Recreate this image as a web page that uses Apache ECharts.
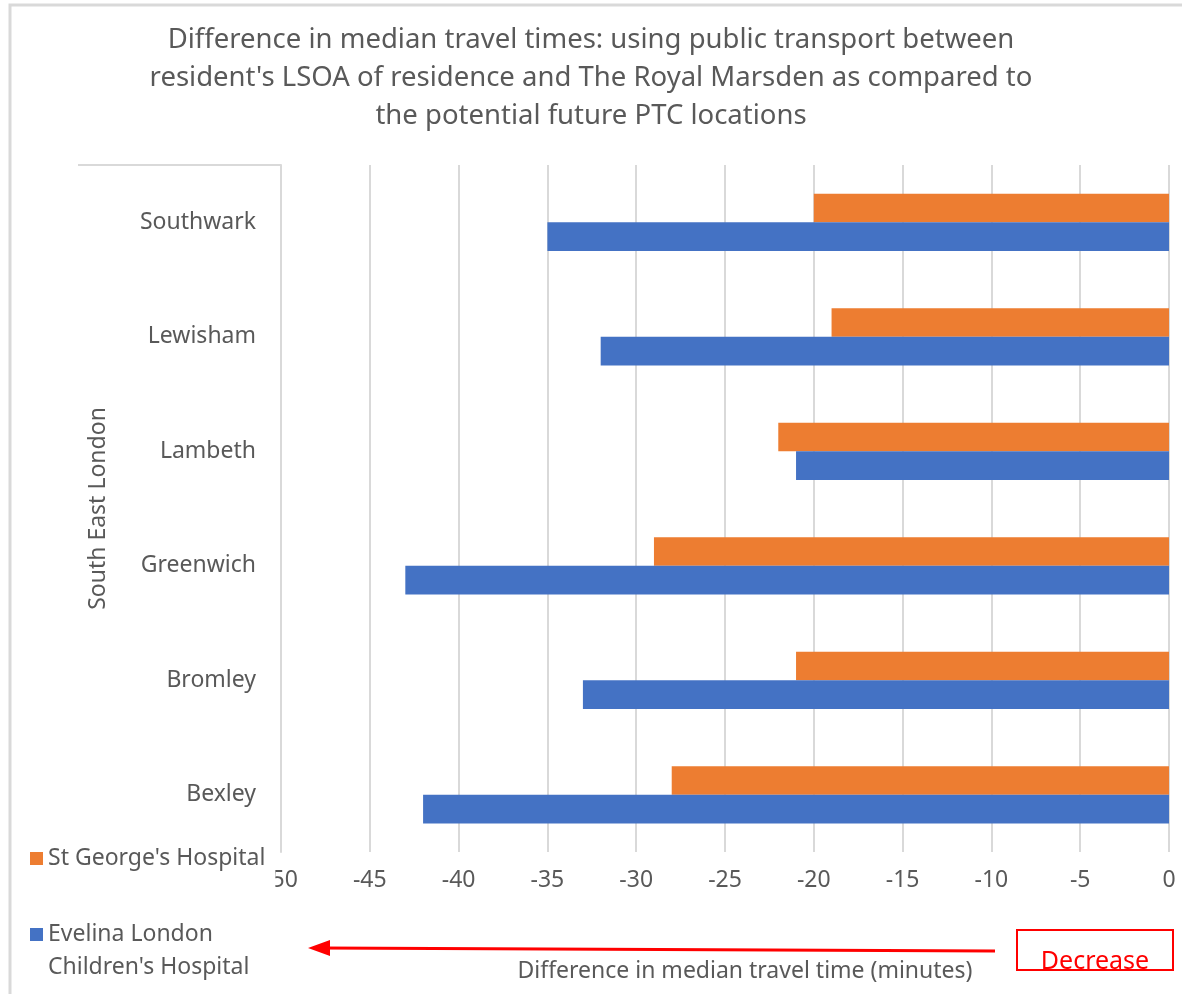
<!DOCTYPE html>
<html>
<head>
<meta charset="utf-8">
<script src="https://cdn.jsdelivr.net/npm/echarts@6/dist/echarts.min.js"></script>
<style>
html,body{margin:0;padding:0;background:#fff;}
#chart{width:1182px;height:994px;}
</style>
</head>
<body>
<div id="chart"></div>
<script>
// ---- data ----
const categories = ['Bexley', 'Bromley', 'Greenwich', 'Lambeth', 'Lewisham', 'Southwark'];
const stGeorges = [-28, -21, -29, -22, -19, -20];
const evelina = [-42, -33, -43, -21, -32, -35];
const seriesNames = ["St George's Hospital", "Evelina London Children's Hospital"];
const xTicks = { min: -50, max: 0, step: 5 };
const titleText = "Difference in median travel times: using public transport between\nresident's LSOA of residence and The Royal Marsden as compared to\nthe potential future PTC locations";
const xAxisTitle = 'Difference in median travel time (minutes)';
const groupLabel = 'South East London';
const noteText = 'Decrease';

const FONT = '"Noto Sans", "Open Sans", sans-serif';
const GREY = '#595959';
const chart = echarts.init(document.getElementById('chart'));
chart.setOption({
  backgroundColor: '#fff',
  animation: false,
  textStyle: { fontFamily: FONT },
  title: {
    text: titleText,
    left: 'center',
    top: 16,
    textStyle: { fontFamily: FONT, fontSize: 27.5, fontWeight: 'normal', color: GREY, lineHeight: 38 }
  },
  legend: [
    {
      orient: 'vertical',
      left: 20,
      top: 834,
      padding: [8, 10, 36, 10],
      itemWidth: 13,
      itemHeight: 13,
      backgroundColor: '#fff',
      icon: 'rect',
      textStyle: { fontFamily: FONT, fontSize: 23, color: GREY, lineHeight: 33 },
      data: [seriesNames[0]]
    },
    {
      orient: 'vertical',
      left: 20,
      top: 885,
      padding: [0, 6, 0, 10],
      itemWidth: 13,
      itemHeight: 13,
      icon: 'rect',
      textStyle: {
        fontFamily: FONT, fontSize: 23, color: GREY, lineHeight: 33,
        rich: {
          e: { fontSize: 23, lineHeight: 33 },
          b: { fontFamily: FONT, fontSize: 23, color: GREY, lineHeight: 33 }
        }
      },
      data: [seriesNames[1]],
      formatter: function () { return '{e| }\n{b|Evelina London}\n{b|Children\'s Hospital}'; }
    }
  ],
  grid: { left: 281, right: 13, top: 165, bottom: 142, containLabel: false },
  xAxis: {
    type: 'value',
    min: xTicks.min,
    max: xTicks.max,
    interval: xTicks.step,
    name: xAxisTitle,
    nameLocation: 'middle',
    nameGap: 108,
    nameTextStyle: { fontFamily: FONT, fontSize: 23, color: GREY, padding: [0, 0, 0, 40] },
    axisLine: { show: false },
    axisTick: { show: false },
    axisLabel: { fontFamily: FONT, fontSize: 23, color: GREY, margin: 17 },
    splitLine: { lineStyle: { color: '#d9d9d9', width: 2 } }
  },
  yAxis: {
    type: 'category',
    data: categories,
    name: groupLabel,
    nameLocation: 'middle',
    nameRotate: 90,
    nameGap: 171,
    nameTextStyle: { fontFamily: FONT, fontSize: 23, color: GREY },
    axisLine: { show: true, onZero: false, lineStyle: { color: '#d9d9d9', width: 2 } },
    axisTick: { show: false },
    axisLabel: { fontFamily: FONT, fontSize: 23, color: GREY, margin: 25 }
  },
  series: [
    {
      name: seriesNames[0], type: 'bar', data: stGeorges,
      itemStyle: { color: '#ED7D31' }, barGap: '0%', barCategoryGap: '50%'
    },
    {
      name: seriesNames[1], type: 'bar', data: evelina,
      itemStyle: { color: '#4472C4' }, barGap: '0%', barCategoryGap: '50%'
    }
  ],
  graphic: [
    { type: 'rect', shape: { x: 10, y: 5, width: 1400, height: 1200 }, style: { fill: 'none', stroke: '#d9d9d9', lineWidth: 3 }, silent: true, z: 0 },
    { type: 'line', shape: { x1: 78, y1: 165, x2: 281, y2: 165 }, style: { stroke: '#d9d9d9', lineWidth: 2 }, silent: true },
    { type: 'line', shape: { x1: 995, y1: 951, x2: 322, y2: 948 }, style: { stroke: '#ff0000', lineWidth: 3 }, silent: true, z: 10 },
    { type: 'polygon', shape: { points: [[308, 948], [330, 940], [330, 956]] }, style: { fill: '#ff0000' }, silent: true, z: 10 },
    { type: 'text', x: 1095, y: 962, style: { text: noteText, fontFamily: FONT, fontSize: 25, fill: '#ff0000', align: 'center', verticalAlign: 'middle' }, silent: true, z: 10 },
    { type: 'rect', shape: { x: 1017, y: 930, width: 156, height: 40 }, style: { fill: 'none', stroke: '#ff0000', lineWidth: 2 }, silent: true, z: 11 }
  ]
});
</script>
</body>
</html>
